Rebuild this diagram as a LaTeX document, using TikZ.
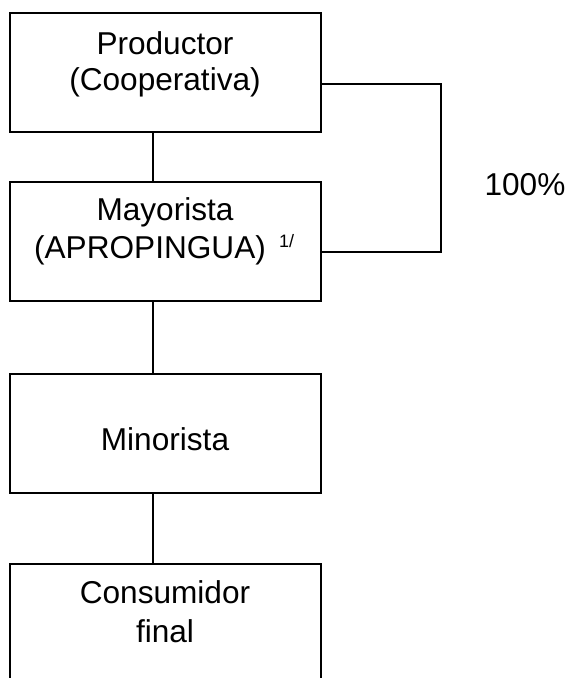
\documentclass[tikz,border=0pt]{standalone}
\usepackage{fontspec}
\setmainfont{Liberation Sans}
\begin{document}
\begin{tikzpicture}[x=1pt,y=1pt,
  stagebox/.style={draw=black,line width=1.5pt,minimum width=311pt,minimum height=119pt,inner sep=0pt,anchor=north west},
  lbl/.style={font=\fontsize{31.6}{36}\selectfont,inner sep=0pt,anchor=base},
  conn/.style={draw=black,line width=1.5pt}]
\clip (0,0) rectangle (569,-678);
\node[stagebox] (b1) at (9,-12) {};
\node[stagebox] (b2) at (9,-181) {};
\node[stagebox] (b3) at (9,-373) {};
\node[stagebox] (b4) at (9,-563) {};
% texts
\node[lbl] (t1a) at (165,-54) {Productor};
\node[lbl] (t1b) at (165,-90) {(Cooperativa)};
\node[lbl] (t2a) at (165,-220) {Mayorista};
\node[lbl] (t2b) at (150,-258) {(APROPINGUA)};
\node[font=\fontsize{18}{20}\selectfont,inner sep=0pt,anchor=base west] (t2s) at (279,-247) {1/};
\node[lbl] (t3) at (165,-450) {Minorista};
\node[lbl] (t4a) at (165,-603) {Consumidor};
\node[lbl] (t4b) at (165,-642) {final};
\node[lbl] (pct) at (525,-195) {100\%};
% connectors
\coordinate (cx) at (153,0);
\draw[conn] (b1.south -| cx) -- (b2.north -| cx);
\draw[conn] (b2.south -| cx) -- (b3.north -| cx);
\draw[conn] (b3.south -| cx) -- (b4.north -| cx);
\coordinate (r1) at (441,-84);
\coordinate (r2) at (441,-252);
\draw[conn] (b1.east |- r1) -- (r1) -- (r2) -- (b2.east |- r2);
\end{tikzpicture}
\end{document}
